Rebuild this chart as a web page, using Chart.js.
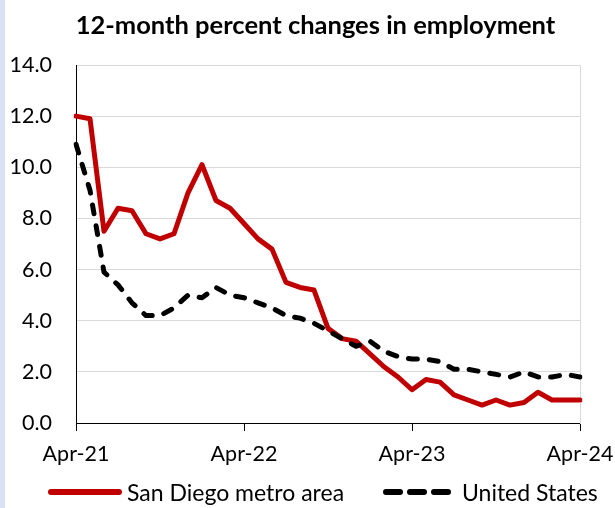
<!DOCTYPE html>
<html>
<head>
<meta charset="utf-8">
<script src="https://cdn.jsdelivr.net/npm/chart.js@4.4.1/dist/chart.umd.min.js"></script>
<style>
  html, body { margin: 0; padding: 0; background: #fff; }
  #strip { position: absolute; left: 0; top: 0; width: 5px; height: 508px; background: #d9e2f3; }
  #wrap { position: absolute; left: 5px; top: 0; width: 610px; height: 508px; }
  #legend { position: absolute; left: 0; top: 478px; width: 615px; height: 28px; font-family: Lato, sans-serif; font-size: 23px; color: #000; }
  .item { position: absolute; top: 0; height: 28px; display: flex; align-items: center; white-space: nowrap; }
  .item svg { margin-right: 5px; }
</style>
</head>
<body>
<div id="strip"></div>
<div id="wrap"><canvas id="c" width="610" height="508"></canvas></div>
<div id="legend"></div>
<script>
const titleText = '12-month percent changes in employment';
const months = ['Apr-21','May-21','Jun-21','Jul-21','Aug-21','Sep-21','Oct-21','Nov-21','Dec-21','Jan-22','Feb-22','Mar-22',
                'Apr-22','May-22','Jun-22','Jul-22','Aug-22','Sep-22','Oct-22','Nov-22','Dec-22','Jan-23','Feb-23','Mar-23',
                'Apr-23','May-23','Jun-23','Jul-23','Aug-23','Sep-23','Oct-23','Nov-23','Dec-23','Jan-24','Feb-24','Mar-24',
                'Apr-24'];
const tickLabels = ['Apr-21','Apr-22','Apr-23','Apr-24'];
const sanDiegoLabel = 'San Diego metro area';
const sanDiego = [12.0, 11.9, 7.5, 8.4, 8.3, 7.4, 7.2, 7.4, 9.0, 10.1, 8.7, 8.4,
                  7.8, 7.2, 6.8, 5.5, 5.3, 5.2, 3.7, 3.3, 3.2, 2.7, 2.2, 1.8,
                  1.3, 1.7, 1.6, 1.1, 0.9, 0.7, 0.9, 0.7, 0.8, 1.2, 0.9, 0.9,
                  0.9];
const usLabel = 'United States';
const us = [10.9, 9.1, 5.9, 5.4, 4.7, 4.2, 4.2, 4.5, 5.0, 4.9, 5.3, 5.0,
            4.9, 4.7, 4.5, 4.2, 4.1, 3.9, 3.6, 3.3, 3.0, 3.2, 2.8, 2.6,
            2.5, 2.5, 2.4, 2.1, 2.1, 2.0, 1.9, 1.8, 2.0, 1.8, 1.8, 1.9,
            1.8];

const FONT = 'Lato, sans-serif';

const chart = new Chart(document.getElementById('c'), {
  type: 'line',
  data: {
    labels: months,
    datasets: [
      { label: sanDiegoLabel, data: sanDiego, borderColor: '#c00000', backgroundColor: '#c00000',
        borderWidth: 5, pointRadius: 0, tension: 0, borderJoinStyle: 'round', borderCapStyle: 'round', order: 1 },
      { label: usLabel, data: us, borderColor: '#000000', backgroundColor: '#000000',
        borderWidth: 5, borderDash: [9, 12], borderCapStyle: 'round', borderJoinStyle: 'round',
        pointRadius: 0, tension: 0, order: 0 }
    ]
  },
  options: {
    responsive: false,
    animation: false,
    devicePixelRatio: 1,
    layout: { padding: { left: 0, right: -11, top: 0, bottom: 0 } },
    plugins: {
      legend: { display: false },
      tooltip: { enabled: false },
      title: {
        display: true, text: titleText, color: '#000',
        font: { family: FONT, size: 25.5, weight: 'bold', lineHeight: 1.2 },
        padding: { top: 10, bottom: 24.4 }
      }
    },
    scales: {
      x: {
        type: 'category',
        offset: false,
        afterBuildTicks: (s) => { s.ticks = s.ticks.filter(t => tickLabels.includes(months[t.value])); },
        afterFit: (s) => { s.height = 85; s.paddingRight = 0; s.paddingLeft = 0; },
        ticks: { autoSkip: false, maxRotation: 0, minRotation: 0, padding: 10, color: '#000',
                 font: { family: FONT, size: 21.5 } },
        grid: { drawOnChartArea: false, drawTicks: true, tickLength: 8, color: '#000', lineWidth: 1 },
        border: { display: true, color: '#000', width: 1 }
      },
      y: {
        min: 0, max: 14,
        afterFit: (s) => { s.width = 71; },
        ticks: { stepSize: 2, padding: 24, color: '#000', font: { family: FONT, size: 21.5 },
                 callback: (v) => Number(v).toFixed(1) },
        grid: { drawTicks: false, lineWidth: 1,
                color: (ctx) => (ctx.tick && ctx.tick.value === 0) ? 'rgba(0,0,0,0)' : '#d9d9d9' },
        border: { display: true, color: '#000', width: 1 }
      },
      y2: {
        position: 'right', min: 0, max: 14,
        afterFit: (s) => { s.width = 46; },
        ticks: { display: false },
        grid: { display: false, drawTicks: false },
        border: { display: true, color: '#d9d9d9', width: 1 }
      }
    }
  }
});

// HTML legend built from the chart's datasets
const legendEl = document.getElementById('legend');
const itemLefts = [48, 383];
chart.data.datasets.forEach((ds, i) => {
  const item = document.createElement('div');
  item.className = 'item';
  item.style.left = itemLefts[i] + 'px';
  const dash = ds.borderDash ? 'stroke-dasharray="14 10"' : '';
  item.innerHTML = '<svg width="74" height="10"><line x1="3" y1="5" x2="71" y2="5" stroke="' + ds.borderColor +
    '" stroke-width="6" stroke-linecap="round" ' + dash + '/></svg>';
  const span = document.createElement('span');
  span.textContent = ds.label;
  item.appendChild(span);
  legendEl.appendChild(item);
});
</script>
</body>
</html>
